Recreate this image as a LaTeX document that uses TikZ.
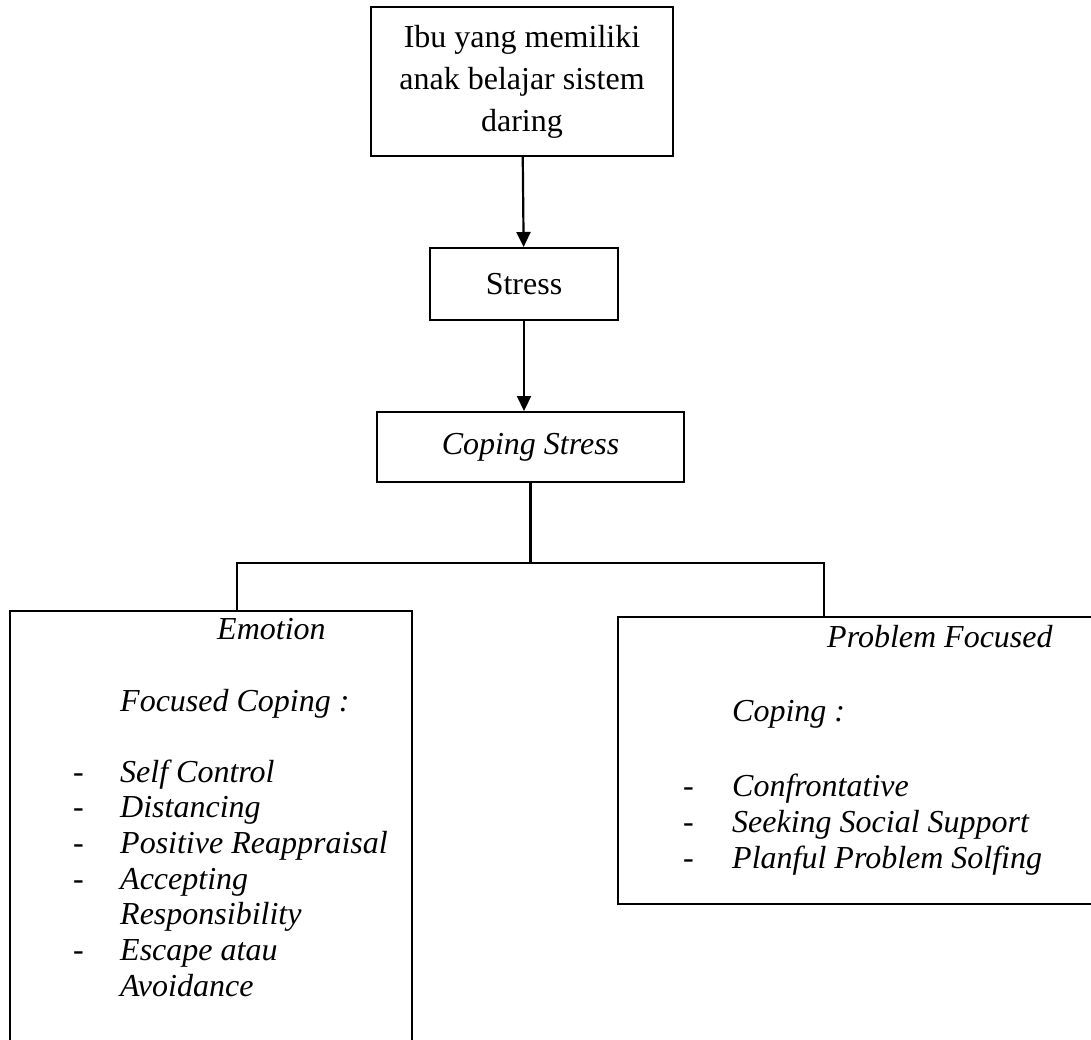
\documentclass[tikz,border=0pt]{standalone}
\usepackage{fontspec}
\setmainfont{Liberation Serif}
\usepackage{tikz}
\usetikzlibrary{calc,arrows.meta}
\tikzset{>={Triangle[width=14pt,length=15pt]},
    box/.style={draw=black, line width=2pt, rectangle, inner sep=0pt},
    big/.style={font=\fontsize{32}{42}\selectfont},
    txt/.style={anchor=base west, inner sep=0pt, big},
    branch/.style={line width=1.5pt}}

\begin{document}
\begin{tikzpicture}[x=1pt, y=-1pt]
    \useasboundingbox (0,0) rectangle (1091,1040);
    \clip (0,0) rectangle (1091,1040);
    \node[box, big, align=center, minimum width=302pt, minimum height=149pt] (ibu) at (522,81.5) {Ibu yang memiliki\\anak belajar sistem\\daring};
    \node[box, big, minimum width=188pt, minimum height=72pt] (stress) at (524,284) {Stress};
    \node[box, big, minimum width=307pt, minimum height=70pt] (coping) at (530.5,447) {\itshape Coping Stress};
    \node[box, minimum width=402pt, minimum height=449pt] (emotion) at (211,835.5) {};
    \node[box, minimum width=492pt, minimum height=287pt] (problem) at (864,760.5) {};
    \draw[->, line width=2.2pt] (ibu) -- (stress);
    \draw[->, line width=2.2pt] (stress.south) -- (stress.south |- coping.north);
    \coordinate (forkl) at (237,563);
    \coordinate (forkr) at (824,563);
    \draw[branch, line width=2.2pt] (coping.south) -- (coping.south |- forkl);
    \draw[branch] (emotion.north -| forkl) -- (forkl) -- (forkr) -- (problem.north -| forkr);
    % emotion focused coping
    \node[txt] (emo1) at (217,639) {\itshape Emotion};
    \node[txt] (emo2) at (120,711) {\itshape Focused Coping :};
    \node[txt] (emod1) at (73,782) {-};
    \node[txt] (emoa) at (120,782) {\itshape Self Control};
    \node[txt] (emod2) at (73,817.7) {-};
    \node[txt] (emob) at (120,817.7) {\itshape Distancing};
    \node[txt] (emod3) at (73,853.4) {-};
    \node[txt] (emoc) at (120,853.4) {\itshape Positive Reappraisal};
    \node[txt] (emod4) at (73,889.1) {-};
    \node[txt] (emod) at (120,889.1) {\itshape Accepting};
    \node[txt] (emoe) at (120,924.8) {\itshape Responsibility};
    \node[txt] (emod5) at (73,960.5) {-};
    \node[txt] (emof) at (120,960.5) {\itshape Escape atau};
    \node[txt] (emog) at (120,996.2) {\itshape Avoidance};
    % problem focused coping
    \node[txt] (prob1) at (827,647) {\itshape Problem Focused};
    \node[txt] (prob2) at (732,721) {\itshape Coping :};
    \node[txt] (probd1) at (683,796.5) {-};
    \node[txt] (proba) at (732,796.5) {\itshape Confrontative};
    \node[txt] (probd2) at (683,832) {-};
    \node[txt] (probb) at (732,832) {\itshape Seeking Social Support};
    \node[txt] (probd3) at (683,868) {-};
    \node[txt] (probc) at (732,868) {\itshape Planful Problem Solfing};
\end{tikzpicture}
\end{document}
